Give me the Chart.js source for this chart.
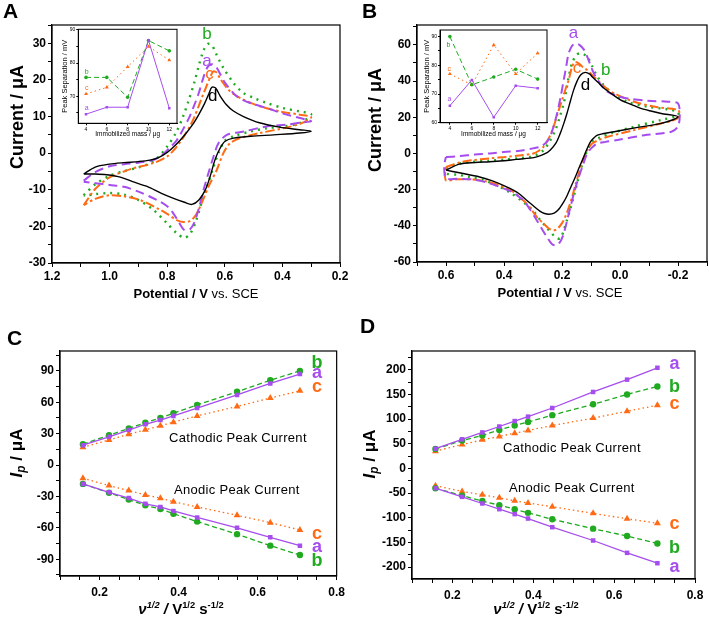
<!DOCTYPE html>
<html>
<head>
<meta charset="utf-8">
<script src="https://cdn.jsdelivr.net/npm/chart.js@4.4.0/dist/chart.umd.min.js"></script>
<style>
  body { margin: 0; background: #fff; width: 709px; height: 622px; position: relative; overflow: hidden;
         font-family: "Liberation Sans", Arial, sans-serif; }
  canvas { position: absolute; }
  .t { position: absolute; white-space: nowrap; color: #000; line-height: 1; }
  .panel { font-size: 21px; font-weight: bold; }
  .ytitle { font-weight: bold; transform: translate(-50%, -50%) rotate(-90deg); }
  .xtitle { font-weight: bold; transform: translate(-50%, -50%); }
  .note { font-size: 13px; transform: translateY(-50%); letter-spacing: 0.3px; }
  sup { font-size: 0.62em; vertical-align: 0.55em; }
  sub { font-size: 0.7em; vertical-align: -0.3em; }
</style>
</head>
<body>
<canvas id="chartA" width="350" height="300" style="left:0;top:0"></canvas>
<canvas id="chartB" width="354" height="300" style="left:355px;top:0"></canvas>
<canvas id="chartC" width="350" height="312" style="left:0;top:310px"></canvas>
<canvas id="chartD" width="354" height="312" style="left:355px;top:310px"></canvas>
<canvas id="insetA" width="125" height="114" style="left:57px;top:25px"></canvas>
<canvas id="insetB" width="134" height="113" style="left:418px;top:26px"></canvas>

<div class="t panel" style="left:3px;top:0">A</div>
<div class="t panel" style="left:362px;top:0">B</div>
<div class="t panel" style="left:7px;top:327px">C</div>
<div class="t panel" style="left:360px;top:315px">D</div>

<div class="t ytitle" style="left:17px;top:117px;font-size:18px">Current / μA</div>
<div class="t ytitle" style="left:375px;top:120px;font-size:18px">Current / μA</div>
<div class="t xtitle" style="left:196px;top:293px;font-size:13px">Potential / V <span style="font-weight:normal">vs. SCE</span></div>
<div class="t xtitle" style="left:560px;top:292px;font-size:13px">Potential / V <span style="font-weight:normal">vs. SCE</span></div>

<div class="t ytitle" style="left:18px;top:453px;font-size:17px"><i>I</i><sub><i>p</i></sub> / μA</div>
<div class="t ytitle" style="left:371px;top:454px;font-size:17px"><i>I</i><sub><i>p</i></sub> / μA</div>
<div class="t xtitle" style="left:181px;top:608px;font-size:15px"><i>ν</i><sup><i>1/2</i></sup><i> / </i> V<sup>1/2</sup> s<sup>-1/2</sup></div>
<div class="t xtitle" style="left:536px;top:608px;font-size:15px"><i>ν</i><sup><i>1/2</i></sup><i> / </i> V<sup>1/2</sup> s<sup>-1/2</sup></div>

<div class="t note" style="left:169px;top:437px">Cathodic Peak Current</div>
<div class="t note" style="left:174px;top:489px">Anodic Peak Current</div>
<div class="t note" style="left:503px;top:447px">Cathodic Peak Current</div>
<div class="t note" style="left:509px;top:487px">Anodic Peak Current</div>

<script>
// ---------- data: cyclic voltammograms, panel A  [potential V, current uA] ----------
const cvA_a = [[1.09,-7.5],[1.05,-5.2],[1.0,-3.6],[0.95,-3.0],[0.9,-2.6],[0.85,-1.9],[0.82,-0.6],[0.79,1.6],[0.767,3.5],[0.745,6.5],[0.725,9.5],[0.709,12.5],[0.69,16.5],[0.675,20.5],[0.66,23.5],[0.645,24.3],[0.63,23.5],[0.615,21.5],[0.599,19.2],[0.558,15.5],[0.512,13.7],[0.454,12.3],[0.397,10.8],[0.339,9.6],[0.30,8.7],
  [0.34,8.3],[0.385,7.8],[0.454,7.3],[0.535,5.9],[0.593,5.0],[0.622,2.7],[0.639,-0.9],[0.657,-5.5],[0.674,-10.1],[0.69,-15.0],[0.705,-18.8],[0.72,-20.7],[0.74,-21.0],[0.76,-18.8],[0.78,-16.3],[0.80,-14.5],[0.836,-12.8],[0.9,-10.5],[0.95,-9.2],[1.0,-8.7],[1.05,-8.2],[1.09,-7.8]];
const cvA_b = [[1.09,-11.5],[1.05,-8.5],[1.0,-6.2],[0.95,-4.9],[0.9,-3.9],[0.86,-2.8],[0.83,-1.0],[0.80,1.8],[0.77,5.5],[0.745,10],[0.725,14.5],[0.705,19.5],[0.69,24],[0.675,27.8],[0.66,29.8],[0.645,29.5],[0.634,27.8],[0.62,25.5],[0.605,23.3],[0.57,19.2],[0.535,16.4],[0.50,15.1],[0.454,13.7],[0.397,12.3],[0.34,11.4],[0.30,10.6],
  [0.34,8.2],[0.397,7.3],[0.454,6.8],[0.512,5.9],[0.57,4.6],[0.60,3.4],[0.622,0],[0.639,-3.7],[0.662,-9.2],[0.68,-13.3],[0.70,-18.5],[0.72,-22.0],[0.74,-23.1],[0.765,-22.0],[0.80,-19.2],[0.848,-15.5],[0.90,-12.8],[0.95,-11.3],[1.0,-10.9],[1.05,-11.2],[1.09,-11.7]];
const cvA_c = [[1.09,-14.2],[1.05,-9.8],[1.0,-6.6],[0.95,-5.0],[0.917,-4.1],[0.847,-2.7],[0.80,-0.9],[0.775,1.0],[0.755,3.0],[0.735,5.5],[0.72,7.5],[0.705,10.0],[0.691,12.8],[0.678,15.5],[0.665,18.0],[0.652,20.5],[0.64,22.3],[0.628,22.0],[0.616,20.3],[0.582,16.9],[0.535,14.6],[0.478,12.8],[0.408,11.4],[0.339,10.5],[0.30,9.8],
  [0.339,8.0],[0.397,6.8],[0.478,5.5],[0.547,4.1],[0.582,2.7],[0.605,0],[0.628,-4.6],[0.657,-9.2],[0.68,-13.6],[0.70,-16.8],[0.72,-18.5],[0.745,-18.8],[0.767,-18.3],[0.80,-16.6],[0.824,-15.5],[0.894,-12.8],[0.95,-11.8],[1.0,-11.5],[1.05,-12.5],[1.09,-14.2]];
const cvA_d = [[1.09,-5.7],[1.05,-3.8],[1.0,-3.0],[0.95,-2.6],[0.9,-2.3],[0.86,-1.9],[0.83,-1.2],[0.80,0.2],[0.77,2.3],[0.74,4.9],[0.71,8.0],[0.69,10.6],[0.67,13.6],[0.655,16.3],[0.645,18.0],[0.632,17.8],[0.616,15.6],[0.595,13.3],[0.57,11.5],[0.535,10.0],[0.48,8.3],[0.41,7.1],[0.34,6.4],[0.30,6.0],
  [0.34,5.5],[0.43,5.0],[0.51,4.6],[0.57,4.1],[0.60,3.2],[0.616,1.4],[0.634,-1.8],[0.651,-6.4],[0.668,-10.1],[0.69,-12.8],[0.714,-14.0],[0.74,-13.4],[0.78,-12.3],[0.82,-11.0],[0.87,-9.1],[0.92,-7.8],[0.96,-6.6],[1.01,-5.9],[1.05,-5.7],[1.09,-5.7]];

// ---------- panel B ----------
const cvB_a = [[0.6,-2.0],[0.554,-1.5],[0.5,-0.6],[0.449,0],[0.40,0.8],[0.345,1.5],[0.30,2.8],[0.275,3.7],[0.255,6.0],[0.241,9.2],[0.229,15],[0.217,22.1],[0.205,31],[0.194,40.6],[0.185,48.5],[0.177,55.4],[0.165,59.5],[0.154,60.8],[0.14,60],[0.125,57.5],[0.113,53.5],[0.095,46],[0.075,40],[0.043,34.1],[0.01,31.8],[-0.026,30.4],[-0.096,29.1],[-0.165,28.6],[-0.2,27.7],[-0.206,21],[-0.2,15],[-0.177,12.0],
  [-0.084,10.1],[0.009,7.4],[0.05,6.4],[0.078,5.5],[0.095,3.5],[0.113,0],[0.128,-6.5],[0.142,-13.0],[0.157,-21.0],[0.171,-29.6],[0.183,-37.5],[0.194,-44.3],[0.205,-48.5],[0.22,-50.8],[0.235,-50.0],[0.252,-46.2],[0.27,-41.5],[0.287,-36.9],[0.31,-31.0],[0.334,-25.9],[0.37,-21.5],[0.415,-18.5],[0.46,-16.0],[0.507,-14.4],[0.56,-14.0],[0.6,-13.8],[0.606,-9],[0.604,-4.5],[0.6,-2.0]];
const cvB_b = [[0.6,-8.0],[0.554,-5.6],[0.507,-4.6],[0.45,-4.0],[0.391,-3.3],[0.35,-2.7],[0.31,-1.9],[0.285,-0.5],[0.264,1.8],[0.245,6.0],[0.223,12.9],[0.208,20],[0.194,27.7],[0.185,35],[0.177,42.4],[0.165,50],[0.15,54.5],[0.136,55.4],[0.125,54.8],[0.113,53.5],[0.095,48],[0.078,42.4],[0.055,37.5],[0.032,34.1],[-0.026,28.6],[-0.096,25.8],[-0.165,24.4],[-0.2,23.0],
  [-0.2,21.0],[-0.142,18.5],[-0.049,14.8],[0.032,11.1],[0.07,8.8],[0.090,7.4],[0.103,4.5],[0.113,1.8],[0.125,-3.5],[0.136,-9.2],[0.148,-16.5],[0.160,-24.0],[0.172,-31],[0.183,-36.9],[0.195,-43],[0.206,-47.1],[0.22,-46.5],[0.235,-44.3],[0.255,-40.5],[0.275,-36.9],[0.30,-31.5],[0.334,-26.8],[0.38,-21.5],[0.426,-17.6],[0.47,-14.8],[0.519,-13.0],[0.56,-11.8],[0.6,-11.1],[0.602,-9.5],[0.6,-8.0]];
const cvB_c = [[0.6,-7.5],[0.554,-5.0],[0.507,-3.7],[0.45,-2.7],[0.391,-1.9],[0.34,-1.0],[0.299,0],[0.28,1.5],[0.264,3.7],[0.245,8.5],[0.229,14.8],[0.215,22],[0.200,29.5],[0.188,35.5],[0.177,40.6],[0.165,48],[0.155,50.5],[0.14,49.5],[0.125,47.2],[0.113,46.1],[0.095,43.2],[0.078,40.6],[0.05,36.5],[0.020,33.2],[-0.049,28.6],[-0.130,25.5],[-0.2,24.0],[-0.205,20.5],[-0.177,18.0],
  [-0.142,16.6],[-0.049,12.9],[0.043,9.2],[0.075,7.3],[0.096,5.5],[0.108,3.0],[0.119,0],[0.13,-5.0],[0.142,-11.1],[0.154,-17.5],[0.165,-24.0],[0.177,-30],[0.189,-35.1],[0.20,-38.5],[0.215,-41.5],[0.229,-42.5],[0.245,-41.5],[0.262,-39],[0.287,-35.1],[0.31,-30.0],[0.334,-25.9],[0.37,-21.0],[0.415,-17.6],[0.46,-15.5],[0.507,-14.4],[0.56,-14.3],[0.6,-14.8],[0.603,-11],[0.6,-7.5]];
const cvB_d = [[0.6,-9.2],[0.554,-5.9],[0.5,-5.0],[0.449,-4.6],[0.40,-4.0],[0.357,-3.3],[0.31,-2.6],[0.287,-1.9],[0.26,-0.3],[0.241,1.8],[0.22,6.0],[0.206,11.1],[0.194,16.5],[0.183,22.1],[0.171,29.0],[0.160,35.0],[0.148,40.0],[0.136,43.4],[0.12,44.8],[0.104,43.8],[0.096,42.4],[0.075,39.2],[0.055,36.0],[0.025,32.5],[-0.003,29.5],[-0.04,27.0],[-0.072,24.9],[-0.11,23.3],[-0.142,22.1],[-0.2,20.3],
  [-0.142,16.6],[-0.061,14.4],[0.020,12.0],[0.06,10.9],[0.078,10.1],[0.092,8.3],[0.102,6.4],[0.114,2.5],[0.125,-1.9],[0.14,-7.5],[0.154,-13.0],[0.168,-18.0],[0.183,-23.5],[0.195,-27.0],[0.212,-31.0],[0.227,-33.0],[0.245,-33.6],[0.26,-33.2],[0.275,-32.0],[0.30,-28.8],[0.322,-25.9],[0.35,-22.0],[0.391,-18.5],[0.44,-15.2],[0.484,-13.0],[0.554,-10.7],[0.6,-9.2]];

// ---------- insets: peak separation vs immobilized mass ----------
const mass = [4, 6, 8, 10, 12];
const sepA_a = [64.6, 66.7, 66.7, 86.9, 66.4];
const sepA_b = [75.7, 75.7, 69.7, 86.8, 83.7];
const sepA_c = [70.7, 72.7, 78.9, 85.0, 80.9];
const sepB_a = [65.9, 74.9, 61.9, 72.9, 72.0];
const sepB_b = [90.0, 73.2, 75.9, 78.6, 75.2];
const sepB_c = [77.0, 73.2, 87.1, 77.0, 84.2];

// ---------- panels C, D: peak current vs sqrt(scan rate) ----------
const scanRoot = [0.158, 0.224, 0.274, 0.316, 0.354, 0.387, 0.447, 0.548, 0.632, 0.707];
const ipC_cath_a = [19, 27, 33.5, 39, 43, 47, 54.5, 67, 78, 87];
const ipC_cath_b = [20, 28.5, 35, 40.5, 45, 49.5, 57.5, 70, 81, 90];
const ipC_cath_c = [17, 24, 29.5, 33.7, 37.5, 41, 47, 56, 64, 71];
const ipC_an_a = [-18, -26, -31.5, -37, -40, -43.8, -50, -60, -69, -77];
const ipC_an_b = [-18, -26.5, -33, -38.5, -42, -46.5, -54, -66, -77, -86];
const ipC_an_c = [-12.5, -19.6, -24.4, -28.5, -31.6, -35, -40, -48, -55, -62];
const ipD_cath_a = [40, 59, 73, 85, 96, 105, 122.5, 155, 180, 204];
const ipD_cath_b = [39.5, 56.5, 67, 78, 87, 94, 108, 130, 150, 166];
const ipD_cath_c = [35, 48.5, 58, 65, 71.5, 77, 87, 102, 116, 128];
const ipD_an_a = [-40, -57.5, -71, -82.5, -92.5, -101.5, -119, -146, -171, -192];
const ipD_an_b = [-40, -55, -66, -74.5, -82.5, -90, -103, -122, -137, -152];
const ipD_an_c = [-35, -46.5, -53.5, -59.5, -65.5, -70, -77.5, -91, -102, -111];

// curve tags [text, x, y]
const tagsA = [['b', 0.662, 32.4], ['a', 0.662, 25.1], ['c', 0.653, 21.5], ['d', 0.642, 15.5]];
const tagsB = [['a', 0.16, 66.4], ['c', 0.148, 47], ['b', 0.049, 46], ['d', 0.119, 37.8]];
const tagsC = [['b', 0.75, 97.5], ['a', 0.75, 88], ['c', 0.75, 74.6], ['c', 0.75, -66], ['a', 0.75, -78.5], ['b', 0.75, -92]];
const tagsD = [['a', 0.749, 212], ['b', 0.749, 166], ['c', 0.749, 131], ['c', 0.749, -113], ['b', 0.749, -160.5], ['a', 0.749, -200.6]];
const tagsInA = [['b', 4.07, 77.4], ['c', 4.07, 72.4], ['a', 4.07, 66.4]];
const tagsInB = [['b', 3.86, 87.1], ['c', 3.95, 78.6], ['a', 3.95, 68.2]];

// ---------- styling ----------
const FONT = '"Liberation Sans", Arial, sans-serif';
const COL = { a: '#a64dee', b: '#1faa1f', c: '#ff6a14', d: '#000' };
Chart.defaults.font.family = FONT;
Chart.defaults.color = '#000';

const isMult = (v, s) => Math.abs(v / s - Math.round(v / s)) < 1e-6;
const fix1 = v => (Math.abs(v) < 1e-9 ? '0.0' : v.toFixed(1));
const int = v => String(Math.round(v));

function axis(pos, min, max, step, major, fmt, size, o = {}) {
  const horiz = pos === 'bottom';
  return {
    type: 'linear', position: pos, min, max, reverse: !!o.reverse,
    // ticks at every multiple of step inside the range (labels only on majors)
    afterBuildTicks: a => {
      const t = [];
      for (let k = Math.ceil(min / step - 1e-9); k * step <= max + 1e-9; k++) t.push({ value: +(k * step).toFixed(6) });
      a.ticks = t;
    },
    afterFit: s => { if (horiz) s.height = size; else s.width = size; },
    ticks: {
      stepSize: step, autoSkip: false, maxRotation: 0, minRotation: 0, color: '#000',
      padding: o.pad ?? 2,
      font: { size: o.font ?? 12, weight: o.weight ?? 'bold' },
      callback: v => (isMult(v, major) ? fmt(v) : '')
    },
    grid: { drawOnChartArea: false, tickLength: o.tick ?? 4, color: '#000', tickColor: '#000', lineWidth: 1 },
    border: { color: '#000', width: o.bw ?? 1.2 },
    title: o.title ? { display: true, text: o.title, font: { size: o.tfont, weight: o.tweight ?? 'normal' },
                       padding: { top: o.tpad ?? 2, bottom: o.tpad ?? 2 } } : { display: false }
  };
}

function overlay(tags, font, lw) {
  return {
    id: 'overlay',
    afterDatasetsDraw(chart) {
      const { ctx, chartArea: a, scales: { x, y } } = chart;
      ctx.save();
      ctx.strokeStyle = '#000';
      ctx.lineWidth = lw;
      ctx.strokeRect(a.left, a.top, a.right - a.left, a.bottom - a.top);
      ctx.textAlign = 'center';
      ctx.textBaseline = 'middle';
      ctx.font = font;
      tags.forEach(([t, vx, vy]) => {
        ctx.fillStyle = COL[t];
        ctx.fillText(t, x.getPixelForValue(vx), y.getPixelForValue(vy));
      });
      ctx.restore();
    }
  };
}

const cvStyle = {
  a: { borderDash: [9, 5], borderWidth: 2 },
  b: { borderDash: [2, 5], borderWidth: 2.4 },
  c: { borderDash: [9, 3, 2.5, 3], borderWidth: 2 },
  d: { borderDash: [], borderWidth: 1.4 }
};
function cvSet(pts, k) {
  return Object.assign({ data: pts.map(p => ({ x: p[0], y: p[1] })), showLine: true, pointRadius: 0,
    tension: 0.3, fill: false, borderColor: COL[k] }, cvStyle[k]);
}

const markStyle = {
  a: { pointStyle: 'rect', borderDash: [] },
  b: { pointStyle: 'circle', borderDash: [5, 3] },
  c: { pointStyle: 'triangle', borderDash: [1.5, 3] }
};
function markSet(xs, ys, k, r, lw) {
  return Object.assign({ data: xs.map((x, i) => ({ x, y: ys[i] })), showLine: true, fill: false, tension: 0,
    borderColor: COL[k], backgroundColor: COL[k], pointBackgroundColor: COL[k], borderWidth: lw,
    pointBorderWidth: 0, pointRadius: k === 'c' ? r * 1.25 : r }, markStyle[k]);
}

function base(padding, scales, datasets, plugin) {
  return {
    type: 'scatter',
    data: { datasets },
    options: {
      responsive: false, animation: false, events: [],
      layout: { padding, autoPadding: false },
      plugins: { legend: { display: false }, tooltip: { enabled: false } },
      scales
    },
    plugins: [plugin]
  };
}

// Panel A
new Chart(document.getElementById('chartA'), base(
  { top: 25, right: 10, left: 0, bottom: 0 },
  { x: axis('bottom', 0.2, 1.2, 0.1, 0.2, fix1, 37, { reverse: true }),
    y: axis('left', -30, 35, 5, 10, int, 52) },
  [cvSet(cvA_d, 'd'), cvSet(cvA_a, 'a'), cvSet(cvA_c, 'c'), cvSet(cvA_b, 'b')],
  overlay(tagsA, '17px ' + FONT, 1.2)));

// Panel B
new Chart(document.getElementById('chartB'), base(
  { top: 25, right: 2, left: 0, bottom: 0 },
  { x: axis('bottom', -0.3, 0.7, 0.1, 0.2, fix1, 38, { reverse: true }),
    y: axis('left', -60, 71, 10, 20, int, 62) },
  [cvSet(cvB_d, 'd'), cvSet(cvB_a, 'a'), cvSet(cvB_c, 'c'), cvSet(cvB_b, 'b')],
  overlay(tagsB, '17px ' + FONT, 1.2)));

// Panel C
new Chart(document.getElementById('chartC'), base(
  { top: 41, right: 12, left: 0, bottom: 0 },
  { x: axis('bottom', 0.1, 0.8, 0.05, 0.2, fix1, 46, { pad: 5 }),
    y: axis('left', -106, 109, 15, 30, int, 60) },
  [markSet(scanRoot, ipC_cath_a, 'a', 3.2, 1.3), markSet(scanRoot, ipC_cath_b, 'b', 3.2, 1.3), markSet(scanRoot, ipC_cath_c, 'c', 3.2, 1.3),
   markSet(scanRoot, ipC_an_a, 'a', 3.2, 1.3), markSet(scanRoot, ipC_an_b, 'b', 3.2, 1.3), markSet(scanRoot, ipC_an_c, 'c', 3.2, 1.3)],
  overlay(tagsC, 'bold 18px ' + FONT, 1.2)));

// Panel D
new Chart(document.getElementById('chartD'), base(
  { top: 41, right: 14, left: 0, bottom: 0 },
  { x: axis('bottom', 0.1, 0.8, 0.05, 0.2, fix1, 43, { pad: 5 }),
    y: axis('left', -224, 238, 25, 50, int, 57) },
  [markSet(scanRoot, ipD_cath_a, 'a', 3.2, 1.3), markSet(scanRoot, ipD_cath_b, 'b', 3.2, 1.3), markSet(scanRoot, ipD_cath_c, 'c', 3.2, 1.3),
   markSet(scanRoot, ipD_an_a, 'a', 3.2, 1.3), markSet(scanRoot, ipD_an_b, 'b', 3.2, 1.3), markSet(scanRoot, ipD_an_c, 'c', 3.2, 1.3)],
  overlay(tagsD, 'bold 18px ' + FONT, 1.2)));

// Insets
const inOpt = { font: 5, weight: 'normal', tick: 2, pad: 1, bw: 1 };
new Chart(document.getElementById('insetA'), base(
  { top: 4.3, right: 5, left: 0, bottom: 0 },
  { x: axis('bottom', 3.26, 12.74, 2, 2, int, 15.7, Object.assign({ title: 'Immobilized mass / μg', tfont: 6.5, tpad: 0.5 }, inOpt)),
    y: axis('left', 61.85, 90.2, 5, 10, int, 21.3, Object.assign({ title: 'Peak Separation / mV', tfont: 7.5, tpad: 3 }, inOpt)) },
  [markSet(mass, sepA_a, 'a', 1.8, 1), markSet(mass, sepA_b, 'b', 1.8, 1), markSet(mass, sepA_c, 'c', 1.8, 1)],
  overlay(tagsInA, '7px ' + FONT, 1)));

new Chart(document.getElementById('insetB'), base(
  { top: 4, right: 5, left: 0, bottom: 0 },
  { x: axis('bottom', 3.1, 12.85, 2, 2, int, 16.3, Object.assign({ title: 'Immobilized mass / μg', tfont: 6.5, tpad: 0.5 }, inOpt)),
    y: axis('left', 60, 92.3, 5, 10, int, 22, Object.assign({ title: 'Peak Separation / mV', tfont: 7.5, tpad: 4 }, inOpt)) },
  [markSet(mass, sepB_a, 'a', 1.8, 1), markSet(mass, sepB_b, 'b', 1.8, 1), markSet(mass, sepB_c, 'c', 1.8, 1)],
  overlay(tagsInB, '7px ' + FONT, 1)));
</script>
</body>
</html>
